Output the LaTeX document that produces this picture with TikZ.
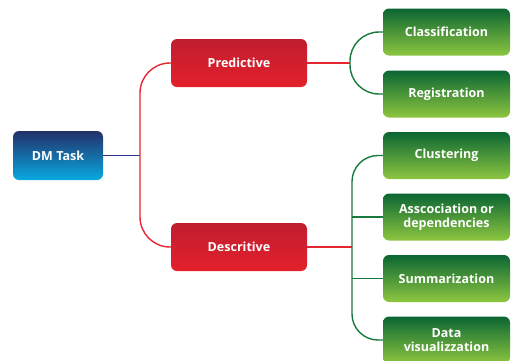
\documentclass[tikz,border=0pt]{standalone}
\usepackage{fontspec}
\setmainfont{Open Sans}
\definecolor{navy}{HTML}{22306A}
\definecolor{cyanb}{HTML}{0AA8E0}
\definecolor{redtop}{HTML}{C01E30}
\definecolor{redbot}{HTML}{E4202B}
\definecolor{gtop}{HTML}{0B6633}
\definecolor{gbot}{HTML}{8DC640}
\definecolor{redline}{HTML}{E52530}
\definecolor{greenline}{HTML}{177A3C}
\definecolor{blueline}{HTML}{2B3590}
\tikzset{
  box/.style={rectangle, rounded corners=6pt, text=white, font=\bfseries\fontsize{12.5}{14}\selectfont, align=center, inner sep=0pt},
  bluebox/.style={box, minimum width=90pt, minimum height=49pt, top color=navy, bottom color=cyanb},
  redbox/.style={box, minimum width=136pt, minimum height=48pt, top color=redtop, bottom color=redbot},
  greenbox/.style={box, minimum width=127pt, minimum height=47pt, top color=gtop, bottom color=gbot},
  rline/.style={draw=redline, line width=1.4pt},
  gline/.style={draw=greenline, line width=1.4pt},
  bline/.style={draw=blueline, line width=1.4pt}
}
\begin{document}
\begin{tikzpicture}[x=1pt,y=-1pt]
\useasboundingbox (0,0) rectangle (512,360);
\node[bluebox] (dm) at (58,155.5) {DM Task};
\node[redbox] (pred) at (239,63) {Predictive};
\node[redbox] (desc) at (239,247) {Descritive};
\node[greenbox] (cls) at (446.5,32) {Classification};
\node[greenbox] (reg) at (446.5,94) {Registration};
\node[greenbox] (clu) at (446.5,155.5) {Clustering};
\node[greenbox] (asc) at (446.5,217) {Asscociation or\\dependencies};
\node[greenbox] (sum) at (446.5,278.5) {Summarization};
\node[greenbox] (viz) at (446.5,340) {Data\\visualizzation};
\coordinate (j) at (140,155.5);
\coordinate (gp) at (350,63);
\coordinate (gd) at (352,247);
\draw[bline] (dm.east) -- (j);
\draw[rline, rounded corners=30pt] (j) |- (pred.west);
\draw[rline, rounded corners=30pt] (j) |- (desc.west);
\draw[rline] (pred.east) -- (gp);
\draw[rline] (desc.east) -- (gd);
\draw[gline, rounded corners=29pt] (gp) |- (cls.west);
\draw[gline, rounded corners=29pt] (gp) |- (reg.west);
\draw[gline, rounded corners=26pt] (gd) |- (clu.west);
\draw[gline, rounded corners=26pt] (gd) |- (viz.west);
\draw[gline] (asc.west) -- (asc.west -| gd);
\draw[gline] (sum.west) -- (sum.west -| gd);
\end{tikzpicture}
\end{document}
